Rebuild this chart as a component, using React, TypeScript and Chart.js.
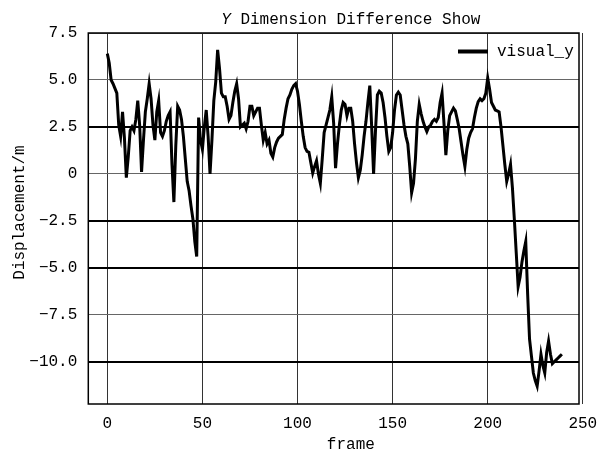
import React, { useEffect, useRef } from 'react';
import { Chart, registerables } from 'chart.js';

Chart.register(...registerables);

const FONT = '"Liberation Mono", "DejaVu Sans Mono", monospace';

const titleItalic = 'Y';
const titleRest = ' Dimension Difference Show';
const xAxisTitle = 'frame';
const yAxisTitle = 'Displacement/m';
const seriesLabel = 'visual_y';

const visualY = [
  6.4, 5.9, 5.0, 4.8, 4.55, 4.3, 2.6, 2.0, 3.3, 1.9,
  -0.2, 0.9, 2.3, 2.5, 2.3, 2.9, 3.9, 2.6, 0.1, 1.8,
  3.3, 4.0, 4.8, 4.0, 2.6, 1.8, 3.3, 3.9, 2.2, 2.0,
  2.3, 2.8, 3.1, 3.3, 0.5, -1.5, 1.5, 3.6, 3.4, 2.9,
  2.0, 0.8, -0.4, -0.9, -1.7, -2.4, -3.6, -4.4, 3.0, 1.8,
  1.3, 2.5, 3.4, 2.0, 0.0, 1.8, 3.9, 4.9, 6.6, 5.6,
  4.3, 4.1, 4.1, 3.6, 2.9, 3.1, 3.8, 4.4, 4.8, 4.0,
  2.5, 2.6, 2.7, 2.4, 2.8, 3.6, 3.6, 3.1, 3.3, 3.5,
  3.5, 2.6, 1.8, 2.2, 1.6, 1.8, 1.1, 0.9, 1.4, 1.7,
  1.9, 2.0, 2.1, 2.9, 3.5, 4.0, 4.2, 4.5, 4.7, 4.8,
  4.4, 3.7, 2.8, 2.0, 1.4, 1.2, 1.15, 0.6, 0.05, 0.4,
  0.7, 0.0, -0.5, 0.8, 2.2, 2.6, 3.0, 3.4, 4.1, 2.7,
  0.3, 1.6, 2.6, 3.4, 3.8, 3.7, 3.1, 3.5, 3.5, 2.8,
  1.6, 0.6, -0.2, 0.2, 1.0, 2.0, 2.8, 3.8, 4.7, 2.5,
  0.0, 2.3, 4.2, 4.4, 4.3, 3.8, 3.0, 2.0, 1.2, 1.4,
  2.2, 3.4, 4.2, 4.35, 4.2, 3.4, 2.6, 2.0, 1.6, 0.4,
  -1.0, -0.5, 0.8, 2.8, 3.7, 3.2, 2.8, 2.5, 2.25, 2.5,
  2.6, 2.8, 2.9, 2.8, 3.0, 3.8, 4.3, 2.7, 1.0, 2.3,
  3.1, 3.3, 3.5, 3.35, 2.9, 2.4, 1.7, 1.0, 0.4, 1.3,
  1.9, 2.2, 2.4, 3.0, 3.5, 3.85, 4.0, 3.9, 4.0, 4.3,
  5.1, 4.5, 3.8, 3.6, 3.4, 3.35, 3.3, 2.5, 1.5, 0.5,
  -0.4, 0.0, 0.5, -0.75, -2.4, -4.2, -6.0, -5.5, -4.7, -4.1,
  -3.6, -6.4, -8.8, -9.7, -10.6, -11.0, -11.3, -10.5, -9.6, -10.2,
  -10.6, -9.5, -8.9, -9.6, -10.1, -10.0, -9.9, -9.8, -9.7, -9.6,
];

const frames = visualY.map((_, i) => i);

const xTicks = [0, 50, 100, 150, 200, 250];
const xTickLabels = ['0', '50', '100', '150', '200', '250'];
const yTicks = [7.5, 5, 2.5, 0, -2.5, -5, -7.5, -10];
const yTickLabels = ['7.5', '5.0', '2.5', '0', '\u22122.5', '\u22125.0', '\u22127.5', '\u221210.0'];
const boldYTicks = [2.5, -2.5, -5, -10];

const X_MIN = -10;
const X_MAX = 248;
const Y_MIN = -12.25;
const Y_MAX = 7.5;

const decorPlugin = {
  id: 'decor',
  afterDraw(chart: any) {
    const { ctx, chartArea: a } = chart;
    const w = a.right - a.left;
    ctx.save();
    ctx.strokeStyle = '#000';
    ctx.lineWidth = 1.5;
    ctx.strokeRect(a.left, a.top, w, a.bottom - a.top);

    ctx.fillStyle = '#000';
    const cx = a.left + w * 0.535;
    ctx.textBaseline = 'alphabetic';
    ctx.textAlign = 'left';
    ctx.font = `italic 16px ${FONT}`;
    const wi = ctx.measureText(titleItalic).width;
    ctx.font = `16px ${FONT}`;
    const wr = ctx.measureText(titleRest).width;
    const sx = cx - (wi + wr) / 2;
    ctx.font = `italic 16px ${FONT}`;
    ctx.fillText(titleItalic, sx, 24);
    ctx.font = `16px ${FONT}`;
    ctx.fillText(titleRest, sx + wi, 24);

    ctx.textAlign = 'center';
    ctx.fillText(xAxisTitle, cx, 449);

    ctx.save();
    ctx.translate(20, (a.top + a.bottom) / 2 - 6);
    ctx.rotate(-Math.PI / 2);
    ctx.textBaseline = 'middle';
    ctx.fillText(yAxisTitle, 0, 0);
    ctx.restore();

    const ly = a.top + 18.5;
    ctx.strokeStyle = '#000';
    ctx.lineWidth = 4;
    ctx.beginPath();
    ctx.moveTo(a.right - 121, ly);
    ctx.lineTo(a.right - 91, ly);
    ctx.stroke();
    ctx.textAlign = 'left';
    ctx.textBaseline = 'alphabetic';
    ctx.fillText(chart.data.datasets[0].label, a.right - 82, a.top + 23);
    ctx.restore();
  },
};

export default function App() {
  const ref = useRef<HTMLCanvasElement | null>(null);

  useEffect(() => {
    if (!ref.current) return;
    const chart = new Chart(ref.current, {
      type: 'line',
      data: {
        datasets: [
          {
            label: seriesLabel,
            data: frames.map((f, i) => ({ x: f, y: visualY[i] })),
            borderColor: '#000',
            borderWidth: 3,
            pointRadius: 0,
            tension: 0,
            fill: false,
          },
        ],
      },
      options: {
        animation: false,
        responsive: false,
        events: [],
        layout: { padding: { top: 33, right: 20, left: 0, bottom: 0 } },
        plugins: {
          legend: { display: false },
          title: { display: false },
          tooltip: { enabled: false },
        },
        scales: {
          x: {
            type: 'linear',
            min: X_MIN,
            max: X_MAX,
            bounds: 'data',
            afterBuildTicks: (scale: any) => {
              scale.ticks = xTicks.map((v) => ({ value: v }));
            },
            afterFit: (scale: any) => {
              scale.height = 51;
              scale.paddingLeft = 0;
              scale.paddingRight = 0;
            },
            border: { display: false },
            grid: { color: '#333', lineWidth: 1, drawTicks: false },
            ticks: {
              autoSkip: false,
              maxRotation: 0,
              padding: 10,
              color: '#000',
              font: { family: FONT, size: 16 },
              callback: (v: any) => {
                const i = xTicks.indexOf(Number(v));
                return i >= 0 ? xTickLabels[i] : '';
              },
            },
          },
          y: {
            type: 'linear',
            min: Y_MIN,
            max: Y_MAX,
            bounds: 'data',
            afterBuildTicks: (scale: any) => {
              scale.ticks = yTicks.map((v) => ({ value: v }));
            },
            afterFit: (scale: any) => {
              scale.width = 88.3;
              scale.paddingTop = 0;
              scale.paddingBottom = 0;
            },
            border: { display: false },
            grid: {
              drawTicks: false,
              color: (c: any) => (c.tick && boldYTicks.includes(c.tick.value) ? '#000' : '#666'),
              lineWidth: (c: any) => (c.tick && boldYTicks.includes(c.tick.value) ? 2 : 1),
            },
            ticks: {
              autoSkip: false,
              padding: 11,
              color: '#000',
              font: { family: FONT, size: 16 },
              callback: (v: any) => {
                const i = yTicks.indexOf(Number(v));
                return i >= 0 ? yTickLabels[i] : '';
              },
            },
          },
        },
      },
      plugins: [decorPlugin],
    } as any);
    return () => chart.destroy();
  }, []);

  return (
    <div style={{ position: 'fixed', left: 0, top: 0, width: 599, height: 455, background: '#fff' }}>
      <canvas ref={ref} width={599} height={455} style={{ width: 599, height: 455, display: 'block' }} />
    </div>
  );
}
